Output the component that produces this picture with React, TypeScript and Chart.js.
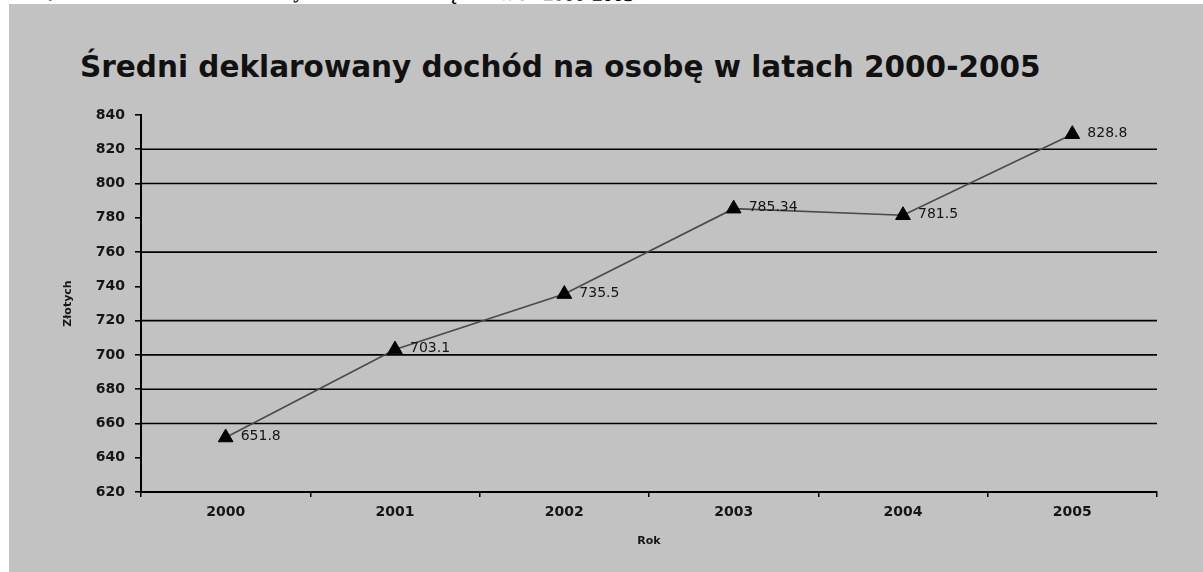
import React, { useEffect, useRef } from "react";
import { Chart, registerables } from "chart.js";

Chart.register(...registerables);

const years = ["2000", "2001", "2002", "2003", "2004", "2005"];
const incomeValues = [651.8, 703.1, 735.5, 785.34, 781.5, 828.8];
const valueLabels = ["651.8", "703.1", "735.5", "785.34", "781.5", "828.8"];
const yMin = 620;
const yMax = 840;
const yStep = 20;
const gridValues = [820, 800, 760, 720, 700, 680, 660];

const chartTitle = "Średni deklarowany dochód na osobę w latach 2000-2005";
const captionText = "Wykres 1. Średni deklarowany dochód na osobę w latach 2000-2005";
const xTitle = "Rok";
const yTitle = "Złotych";

const valueLabelPlugin = {
  id: "valueLabels",
  afterDatasetsDraw(chart: any) {
    const meta = chart.getDatasetMeta(0);
    const ctx = chart.ctx;
    ctx.save();
    ctx.font = "14px 'DejaVu Sans'";
    ctx.fillStyle = "#151515";
    ctx.textAlign = "left";
    ctx.textBaseline = "middle";
    meta.data.forEach((pt: any, i: number) => {
      ctx.fillText(valueLabels[i], pt.x + 15, pt.y - 1);
    });
    ctx.restore();
  },
};

const gridPlugin = {
  id: "partialGrid",
  beforeDatasetsDraw(chart: any) {
    const y = chart.scales.y;
    const area = chart.chartArea;
    const ctx = chart.ctx;
    ctx.save();
    ctx.strokeStyle = "#000";
    ctx.lineWidth = 1.6;
    gridValues.forEach((v) => {
      const py = y.getPixelForValue(v);
      ctx.beginPath();
      ctx.moveTo(area.left, py);
      ctx.lineTo(area.right, py);
      ctx.stroke();
    });
    ctx.restore();
  },
};

export default function App() {
  const canvasRef = useRef<HTMLCanvasElement | null>(null);

  useEffect(() => {
    document.body.style.overflow = "hidden";
    const canvas = canvasRef.current;
    if (!canvas) return;
    const chart = new Chart(canvas, {
      type: "line",
      data: {
        labels: years,
        datasets: [
          {
            data: incomeValues,
            borderColor: "#4a4a4a",
            borderWidth: 1.6,
            pointStyle: "triangle",
            pointRadius: 8.5,
            pointBackgroundColor: "#000",
            pointBorderColor: "#000",
            pointBorderWidth: 1,
            tension: 0,
            fill: false,
          },
        ],
      },
      options: {
        responsive: false,
        animation: false,
        events: [],
        layout: { padding: { left: 58, top: 115, right: 46, bottom: 20 } },
        plugins: {
          legend: { display: false },
          title: { display: false },
          tooltip: { enabled: false },
        },
        scales: {
          x: {
            type: "category",
            offset: true,
            afterFit: (s: any) => {
              s.height = 60;
            },
            grid: {
              display: true,
              drawOnChartArea: false,
              drawTicks: true,
              tickLength: 5,
              color: "#000",
              lineWidth: 1.5,
              offset: true,
            },
            border: { display: true, color: "#000", width: 2 },
            ticks: {
              color: "#151515",
              padding: 7,
              font: { family: "'DejaVu Sans'", size: 14, weight: "bold" },
            },
            title: {
              display: true,
              text: xTitle,
              color: "#151515",
              padding: { top: 4, bottom: 4 },
              font: { family: "'DejaVu Sans'", size: 11, weight: "bold" },
            },
          },
          y: {
            min: yMin,
            max: yMax,
            afterFit: (s: any) => {
              s.width = 83;
            },
            ticks: {
              stepSize: yStep,
              color: "#151515",
              padding: 10,
              font: { family: "'DejaVu Sans'", size: 14, weight: "bold" },
            },
            grid: {
              display: true,
              drawOnChartArea: false,
              drawTicks: true,
              color: "#000",
              lineWidth: 1.6,
              tickLength: 6,
            },
            border: { display: true, color: "#000", width: 2 },
            title: {
              display: true,
              text: yTitle,
              color: "#151515",
              padding: { top: 4, bottom: 4 },
              font: { family: "'DejaVu Sans'", size: 11, weight: "bold" },
            },
          },
        },
      },
      plugins: [gridPlugin, valueLabelPlugin],
    } as any);
    return () => chart.destroy();
  }, []);

  return (
    <div
      style={{
        position: "absolute",
        left: 0,
        top: 0,
        width: 1203,
        height: 572,
        overflow: "hidden",
        background: "#fff",
      }}
    >
      <div
        style={{
          position: "absolute",
          left: 28,
          top: -16,
          whiteSpace: "nowrap",
          fontFamily: "'Liberation Serif', serif",
          fontWeight: "bold",
          fontSize: 21,
          lineHeight: "21px",
          color: "#000",
          transform: "rotate(0.5deg)",
          transformOrigin: "600px 50%",
        }}
      >
        {captionText}
      </div>
      <div
        style={{
          position: "absolute",
          left: 9,
          top: 4,
          right: 0,
          bottom: 0,
          background: "#c2c2c2",
        }}
      />
      <div
        style={{
          position: "absolute",
          left: 80,
          top: 53,
          whiteSpace: "nowrap",
          fontFamily: "'DejaVu Sans'",
          fontWeight: "bold",
          fontSize: 29.5,
          lineHeight: "29.5px",
          color: "#111",
        }}
      >
        {chartTitle}
      </div>
      <canvas
        ref={canvasRef}
        width={1203}
        height={572}
        style={{ position: "absolute", left: 0, top: 0, width: 1203, height: 572 }}
      />
    </div>
  );
}
